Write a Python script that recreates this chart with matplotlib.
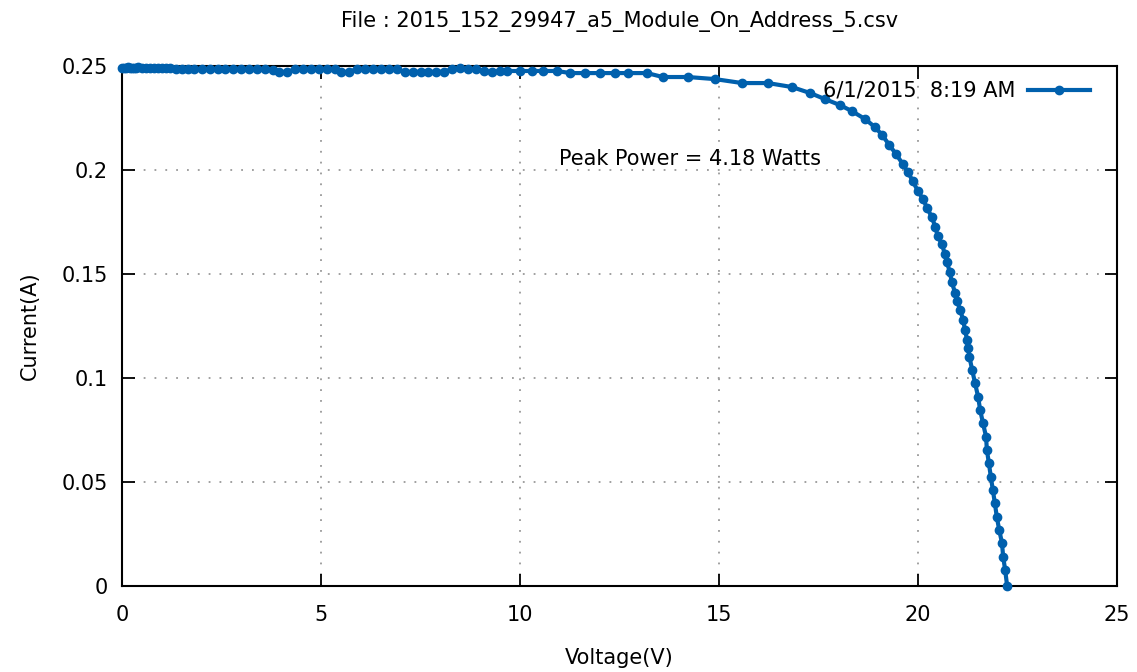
import matplotlib
matplotlib.use("Agg")
import matplotlib.pyplot as plt

title = "File : 2015_152_29947_a5_Module_On_Address_5.csv"
legend_label = "6/1/2015  8:19 AM"
annotation = "Peak Power = 4.18 Watts"

voltage = [0.0, 0.05, 0.1, 0.15, 0.2, 0.25, 0.3, 0.35, 0.4, 0.5, 0.6, 0.7, 0.8, 0.9,
           1.0, 1.1, 1.2, 1.35, 1.5, 1.65, 1.8, 2.0, 2.2, 2.4, 2.6, 2.8, 3.0, 3.2,
           3.4, 3.6, 3.8, 3.95, 4.15, 4.35, 4.55, 4.75, 4.95, 5.15, 5.35, 5.5, 5.7,
           5.9, 6.1, 6.3, 6.5, 6.7, 6.9, 7.1, 7.3, 7.5, 7.7, 7.9, 8.1, 8.3, 8.5,
           8.7, 8.9, 9.1, 9.3, 9.5,
           9.67, 10.0, 10.3, 10.58, 10.93, 11.26, 11.63, 12.01, 12.39, 12.71, 13.19,
           13.59, 14.22, 14.9, 15.58, 16.23, 16.83, 17.29, 17.66, 18.04, 18.34,
           18.67, 18.92, 19.10, 19.28, 19.45, 19.62, 19.75, 19.87, 20.0, 20.13,
           20.23, 20.35, 20.43, 20.50, 20.60, 20.68, 20.73, 20.80, 20.85, 20.93,
           20.98, 21.06, 21.13, 21.18, 21.23, 21.26, 21.29, 21.36, 21.43, 21.51,
           21.56, 21.63, 21.71, 21.73, 21.78, 21.83, 21.88, 21.93, 21.98, 22.04,
           22.11, 22.14, 22.19, 22.24]
current = [0.2490, 0.2492, 0.2490, 0.2494, 0.2490, 0.2488, 0.2492, 0.2490, 0.2494,
           0.2490, 0.2492, 0.2490, 0.2488, 0.2490, 0.2492, 0.2488, 0.2490, 0.2486,
           0.2485, 0.2487, 0.2485, 0.2485, 0.2484, 0.2486, 0.2485, 0.2487, 0.2485,
           0.2484, 0.2485, 0.2485, 0.2483, 0.2470, 0.2472, 0.2484, 0.2485, 0.2486,
           0.2485, 0.2484, 0.2485, 0.2470, 0.2472, 0.2485, 0.2486, 0.2485, 0.2486,
           0.2485, 0.2485, 0.2472, 0.2471, 0.2472, 0.2471, 0.2472, 0.2473, 0.2486,
           0.2488, 0.2486, 0.2484, 0.2474, 0.2473, 0.2475,
           0.2476, 0.2476, 0.2476, 0.2476, 0.2476, 0.2466, 0.2466, 0.2466, 0.2466,
           0.2466, 0.2466, 0.2447, 0.2447, 0.2437, 0.2418, 0.2418, 0.2399, 0.2370,
           0.2341, 0.2312, 0.2283, 0.2245, 0.2206, 0.2168, 0.2120, 0.2076, 0.2028,
           0.1989, 0.1946, 0.1898, 0.1859, 0.1816, 0.1773, 0.1728, 0.1681, 0.1643,
           0.1594, 0.1556, 0.1508, 0.1460, 0.1411, 0.1368, 0.1329, 0.1281, 0.1233,
           0.1185, 0.1146, 0.1103, 0.1040, 0.0978, 0.0910, 0.0848, 0.0785, 0.0718,
           0.0655, 0.0592, 0.0525, 0.0462, 0.0400, 0.0332, 0.0270, 0.0207, 0.0140,
           0.0077, 0.0]

xticks = [0, 5, 10, 15, 20, 25]
yticks = [0, 0.05, 0.1, 0.15, 0.2, 0.25]
ytick_labels = ["0", "0.05", "0.1", "0.15", "0.2", "0.25"]

color = "#0060ad"
fs = 15

fig = plt.figure(figsize=(11.37, 6.72), dpi=100)
ax = fig.add_axes([122/1137, 86/672, 995/1137, 520/672])

ax.plot(voltage, current, color=color, lw=3, marker="o", ms=6,
        label=legend_label, clip_on=False, zorder=3)

ax.set_xlim(0, 25)
ax.set_ylim(0, 0.25)
ax.set_xticks(xticks)
ax.set_xticklabels([str(t) for t in xticks])
ax.set_yticks(yticks)
ax.set_yticklabels(ytick_labels)
ax.tick_params(direction="in", length=9, width=1.3, top=True, right=True,
               labelsize=fs, colors="black")
ax.tick_params(axis="x", pad=14)
ax.tick_params(axis="y", pad=10)
ax.grid(True, color="#999999", linestyle=(0, (1, 5)), linewidth=1.3)
for s in ax.spines.values():
    s.set_linewidth(1.5)

ax.set_xlabel("Voltage(V)", fontsize=fs, labelpad=16)
ax.set_ylabel("Current(A)", fontsize=fs, labelpad=16)
fig.text((122 + 1117) / 2 / 1137, 1 - 22/672, title, ha="center", va="center",
         fontsize=fs)

ax.text(14.27, 0.2052, annotation, ha="center", va="center", fontsize=fs)

leg = ax.legend(loc="center right", frameon=False, fontsize=fs,
                handlelength=3.0, handletextpad=0.6, markerfirst=False,
                bbox_to_anchor=(0.973, 0.952), borderaxespad=0, borderpad=0)

fig.savefig("out.png", dpi=100)
